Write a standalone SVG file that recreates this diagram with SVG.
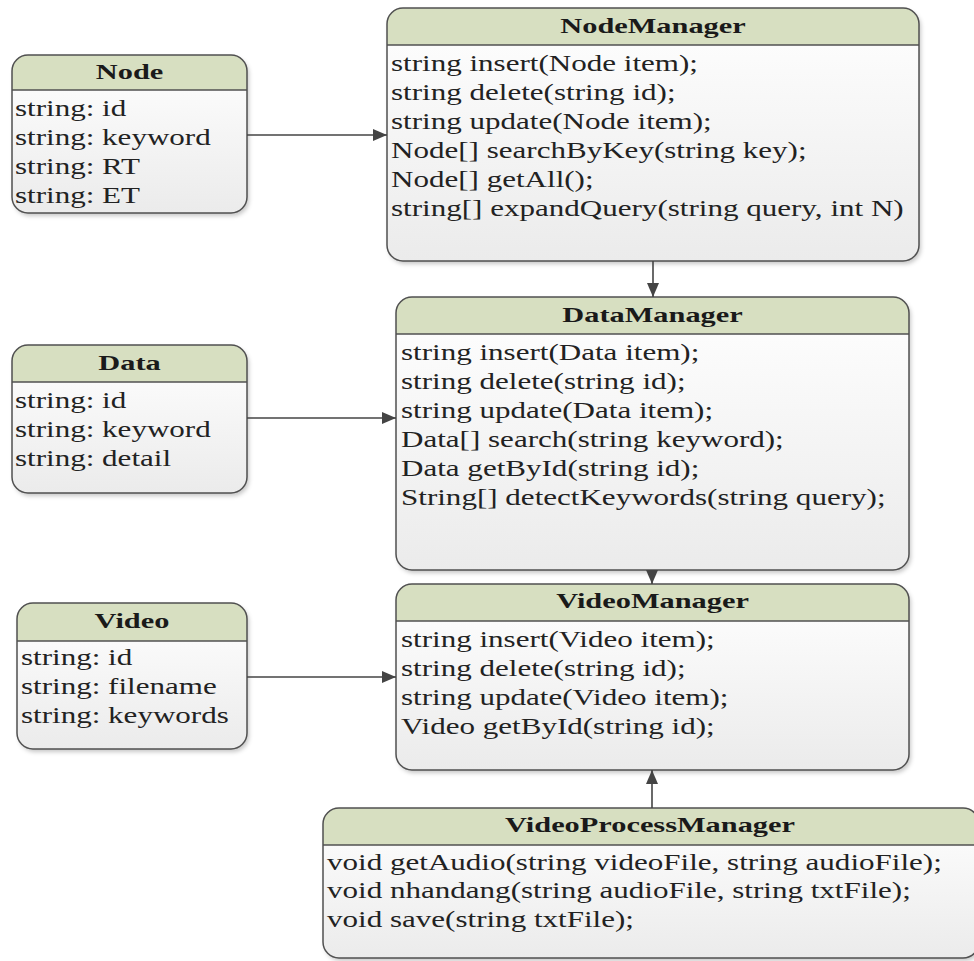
<svg xmlns="http://www.w3.org/2000/svg" width="974" height="961" viewBox="0 0 974 961">
  <style>
    .body { fill: url(#bodyGrad); }
    .hdr { fill: #d7dfc1; }
    .frame { fill: none; stroke: #505050; stroke-width: 1.5; }
    .sep { stroke: #505050; stroke-width: 1.5; }
    .title { font-family: "Liberation Serif", "Times New Roman", serif; font-size: 22px; font-weight: bold; fill: #1a1a1a; text-anchor: middle; }
    .row { font-family: "Liberation Serif", "Times New Roman", serif; font-size: 22.5px; fill: #222; }
    .conn { stroke: #444; stroke-width: 1.6; fill: none; marker-end: url(#arrow); }
  </style>
  <defs>
    <linearGradient id="bodyGrad" x1="0" y1="0" x2="0" y2="1">
      <stop offset="0" stop-color="#ffffff"/>
      <stop offset="1" stop-color="#ebebeb"/>
    </linearGradient>
    <filter id="shadow" x="-5%" y="-5%" width="112%" height="115%">
      <feDropShadow dx="2" dy="3" stdDeviation="2" flood-color="#000" flood-opacity="0.22"/>
    </filter>
    <marker id="arrow" markerUnits="userSpaceOnUse" viewBox="0 0 14 12" refX="14" refY="6" markerWidth="14" markerHeight="12" orient="auto">
      <path d="M0,0 L14,6 L0,12 z" fill="#444"/>
    </marker>
  </defs>

  <rect width="974" height="961" fill="#ffffff"/>

  <!-- Node -->
  <g id="node-Node">
    <rect class="body" x="12" y="55" width="235" height="158" rx="16" filter="url(#shadow)"/>
    <path class="hdr" d="M12,90 V71 A16,16 0 0 1 28,55 H231 A16,16 0 0 1 247,71 V90 Z"/>
    <line class="sep" x1="12" y1="90" x2="247" y2="90"/>
    <rect class="frame" x="12" y="55" width="235" height="158" rx="16"/>
    <text class="title" transform="translate(129.5 79) scale(1.38 1)">Node</text>
    <text class="row" transform="translate(15 116) scale(1.38 1)">string: id</text>
    <text class="row" transform="translate(15 145) scale(1.38 1)">string: keyword</text>
    <text class="row" transform="translate(15 174) scale(1.38 1)">string: RT</text>
    <text class="row" transform="translate(15 203) scale(1.38 1)">string: ET</text>
  </g>

  <!-- NodeManager -->
  <g id="node-NodeManager">
    <rect class="body" x="387" y="8" width="532" height="253" rx="16" filter="url(#shadow)"/>
    <path class="hdr" d="M387,45 V24 A16,16 0 0 1 403,8 H903 A16,16 0 0 1 919,24 V45 Z"/>
    <line class="sep" x1="387" y1="45" x2="919" y2="45"/>
    <rect class="frame" x="387" y="8" width="532" height="253" rx="16"/>
    <text class="title" transform="translate(653 33) scale(1.38 1)">NodeManager</text>
    <text class="row" transform="translate(391 71) scale(1.38 1)">string insert(Node item);</text>
    <text class="row" transform="translate(391 100) scale(1.38 1)">string delete(string id);</text>
    <text class="row" transform="translate(391 129) scale(1.38 1)">string update(Node item);</text>
    <text class="row" transform="translate(391 158) scale(1.38 1)">Node[] searchByKey(string key);</text>
    <text class="row" transform="translate(391 187) scale(1.38 1)">Node[] getAll();</text>
    <text class="row" transform="translate(391 216) scale(1.38 1)">string[] expandQuery(string query, int N)</text>
  </g>

  <!-- Data -->
  <g id="node-Data">
    <rect class="body" x="12" y="345" width="235" height="148" rx="16" filter="url(#shadow)"/>
    <path class="hdr" d="M12,382 V361 A16,16 0 0 1 28,345 H231 A16,16 0 0 1 247,361 V382 Z"/>
    <line class="sep" x1="12" y1="382" x2="247" y2="382"/>
    <rect class="frame" x="12" y="345" width="235" height="148" rx="16"/>
    <text class="title" transform="translate(129.5 370) scale(1.38 1)">Data</text>
    <text class="row" transform="translate(15 408) scale(1.38 1)">string: id</text>
    <text class="row" transform="translate(15 437) scale(1.38 1)">string: keyword</text>
    <text class="row" transform="translate(15 466) scale(1.38 1)">string: detail</text>
  </g>

  <!-- DataManager -->
  <g id="node-DataManager">
    <rect class="body" x="396" y="297" width="513" height="273" rx="16" filter="url(#shadow)"/>
    <path class="hdr" d="M396,334 V313 A16,16 0 0 1 412,297 H893 A16,16 0 0 1 909,313 V334 Z"/>
    <line class="sep" x1="396" y1="334" x2="909" y2="334"/>
    <rect class="frame" x="396" y="297" width="513" height="273" rx="16"/>
    <text class="title" transform="translate(652.5 322) scale(1.38 1)">DataManager</text>
    <text class="row" transform="translate(401 360) scale(1.38 1)">string insert(Data item);</text>
    <text class="row" transform="translate(401 389) scale(1.38 1)">string delete(string id);</text>
    <text class="row" transform="translate(401 418) scale(1.38 1)">string update(Data item);</text>
    <text class="row" transform="translate(401 447) scale(1.38 1)">Data[] search(string keyword);</text>
    <text class="row" transform="translate(401 476) scale(1.38 1)">Data getById(string id);</text>
    <text class="row" transform="translate(401 505) scale(1.38 1)">String[] detectKeywords(string query);</text>
  </g>

  <!-- Video -->
  <g id="node-Video">
    <rect class="body" x="17" y="603" width="230" height="146" rx="16" filter="url(#shadow)"/>
    <path class="hdr" d="M17,641 V619 A16,16 0 0 1 33,603 H231 A16,16 0 0 1 247,619 V641 Z"/>
    <line class="sep" x1="17" y1="641" x2="247" y2="641"/>
    <rect class="frame" x="17" y="603" width="230" height="146" rx="16"/>
    <text class="title" transform="translate(132 628) scale(1.38 1)">Video</text>
    <text class="row" transform="translate(21 665) scale(1.38 1)">string: id</text>
    <text class="row" transform="translate(21 694) scale(1.38 1)">string: filename</text>
    <text class="row" transform="translate(21 723) scale(1.38 1)">string: keywords</text>
  </g>

  <!-- VideoManager -->
  <g id="node-VideoManager">
    <rect class="body" x="396" y="584" width="513" height="186" rx="16" filter="url(#shadow)"/>
    <path class="hdr" d="M396,621 V600 A16,16 0 0 1 412,584 H893 A16,16 0 0 1 909,600 V621 Z"/>
    <line class="sep" x1="396" y1="621" x2="909" y2="621"/>
    <rect class="frame" x="396" y="584" width="513" height="186" rx="16"/>
    <text class="title" transform="translate(652.5 608) scale(1.38 1)">VideoManager</text>
    <text class="row" transform="translate(401 647) scale(1.38 1)">string insert(Video item);</text>
    <text class="row" transform="translate(401 676) scale(1.38 1)">string delete(string id);</text>
    <text class="row" transform="translate(401 705) scale(1.38 1)">string update(Video item);</text>
    <text class="row" transform="translate(401 734) scale(1.38 1)">Video getById(string id);</text>
  </g>

  <!-- VideoProcessManager (runs past the right edge) -->
  <g id="node-VideoProcessManager">
    <rect class="body" x="323" y="808" width="656" height="150" rx="16" filter="url(#shadow)"/>
    <path class="hdr" d="M323,845 V824 A16,16 0 0 1 339,808 H963 A16,16 0 0 1 979,824 V845 Z"/>
    <line class="sep" x1="323" y1="845" x2="979" y2="845"/>
    <rect class="frame" x="323" y="808" width="656" height="150" rx="16"/>
    <text class="title" transform="translate(650 832) scale(1.38 1)">VideoProcessManager</text>
    <text class="row" transform="translate(327 870) scale(1.38 1)">void getAudio(string videoFile, string audioFile);</text>
    <text class="row" transform="translate(327 898) scale(1.38 1)">void nhandang(string audioFile, string txtFile);</text>
    <text class="row" transform="translate(327 927) scale(1.38 1)">void save(string txtFile);</text>
  </g>

  <!-- Connectors -->
  <g id="connectors">
    <path class="conn" d="M247,135 H387"/>
    <path class="conn" d="M247,418 H396"/>
    <path class="conn" d="M247,677 H396"/>
    <path class="conn" d="M653,261 V297"/>
    <path class="conn" d="M652,570 V584"/>
    <path class="conn" d="M652,808 V770"/>
  </g>
</svg>
